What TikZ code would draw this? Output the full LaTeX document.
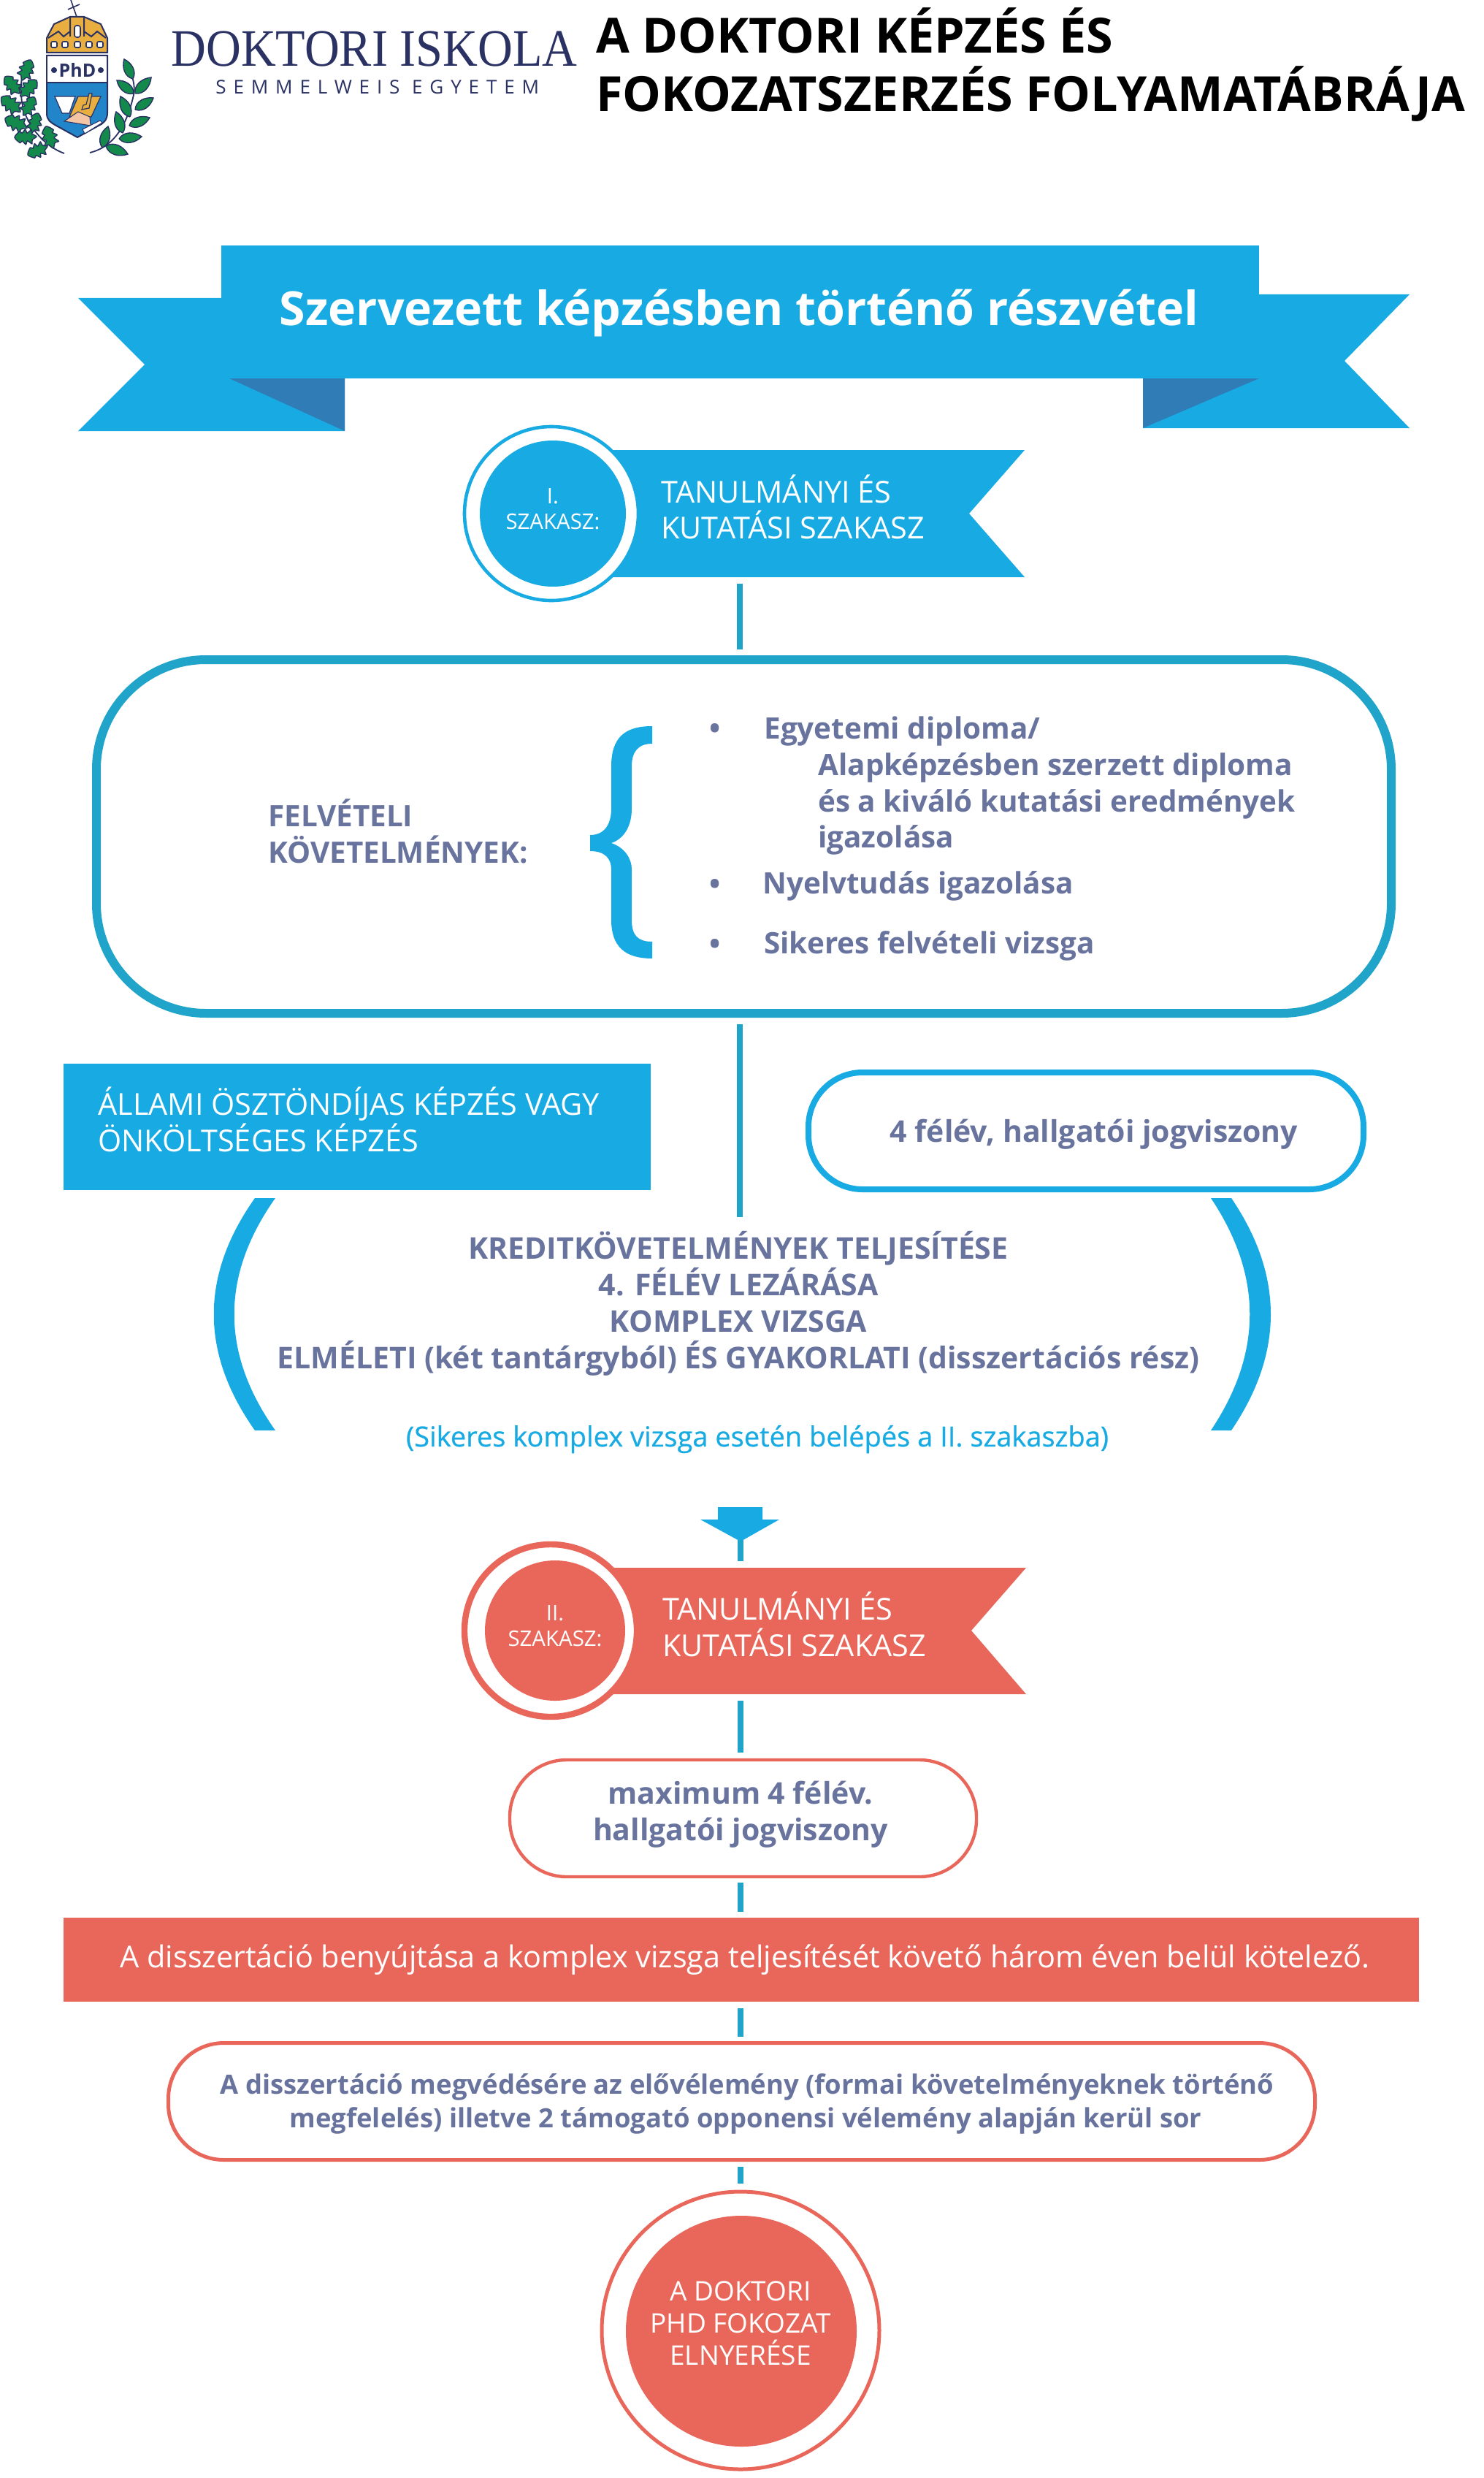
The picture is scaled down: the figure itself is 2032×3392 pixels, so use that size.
\documentclass[tikz,border=0pt]{standalone}
\usepackage{fontspec}
\setmainfont{Open Sans}
\newfontfamily\headserif[FakeStretch=.92]{Liberation Serif}
\newfontfamily\spacedsans[LetterSpace=38]{Open Sans}
\newfontfamily\notesans[FakeBold=.6]{Open Sans}
\usetikzlibrary{positioning}
\definecolor{skyband}{HTML}{18ABE3}
\definecolor{skyline}{HTML}{20A4CA}
\definecolor{foldblue}{HTML}{2F7CB6}
\definecolor{coral}{HTML}{E9675A}
\definecolor{slate}{HTML}{68739E}
\definecolor{navy}{HTML}{2A3163}
\definecolor{dome}{HTML}{E8AE3F}
\definecolor{shieldblue}{HTML}{2285C9}
\definecolor{leafgreen}{HTML}{138A4B}
\definecolor{skin}{HTML}{F4C5A5}
\tikzset{
  laurel leaf/.pic={
    \filldraw[fill=leafgreen, draw=navy, line width=.7pt]
    (0,0) .. controls (.25,.32) and (.7,.25) .. (1,0) .. controls (.7,-.25) and (.25,-.32) .. (0,0);
  },
  oak leaf/.pic={
    \filldraw[fill=leafgreen, draw=navy, line width=.7pt]
    plot[smooth cycle, tension=.5] coordinates {(0,0) (.2,.14) (.22,.32) (.42,.18) (.5,.34) (.66,.18) (.76,.26) (1,0)
    (.76,-.26) (.66,-.18) (.5,-.34) (.42,-.18) (.22,-.32) (.2,-.14)};
  }
}
\begin{document}
\begin{tikzpicture}[x=.5pt, y=-.5pt, inner sep=0pt,
   linkline/.style={draw=skyline, line width=4pt},
   pillbox/.style={draw, fill=white, rounded corners=39pt, minimum height=80pt},
   stagedisc/.style={circle, fill=white, line width=2.3pt},
   slatetext/.style={text=slate, font=\bfseries\fontsize{20.5}{25}\selectfont},
   slatelist/.style={text=slate, font=\bfseries\fontsize{20.2}{25}\selectfont},
   slatesmall/.style={text=slate, font=\bfseries\fontsize{18.2}{23}\selectfont},
   whitetext/.style={text=white, font=\fontsize{20.7}{25}\selectfont},
   smalltext/.style={text=white, align=center, font=\fontsize{14.7}{17.5}\selectfont}
   ]
   \useasboundingbox (0,0) rectangle (2032,3392);

   % logo
   \draw[navy, line width=.8pt] (97,0) -- (105,23) (93,13) -- (109,6);
   \filldraw[fill=dome, draw=navy, line width=1pt] (64,72) -- (64,52) -- (74,33) -- (96,23) -- (115,23) -- (138,33) -- (147,52) -- (147,72) -- cycle;
   \draw[navy, line width=1pt] (66,52) -- (80,43) -- (87,50) -- (96,43) (96,23) -- (96,50) (115,23) -- (115,50) (115,43) -- (125,50) -- (133,43) -- (145,52);
   \filldraw[fill=white, draw=navy, line width=.8pt, rounded corners=1.5pt] (102,35) rectangle (110,51);
   \foreach \winx in {74,89,106,122,137}
     \filldraw[fill=white, draw=navy, line width=.8pt, rounded corners=1pt] (\winx-4,57) rectangle (\winx+4,65);
   \filldraw[fill=shieldblue, draw=navy, line width=1pt] (64,76) -- (147,76) -- (147,155) .. controls (147,165) and (140,170) .. (135,172) -- (106,188) -- (77,172) .. controls (70,168) and (64,165) .. (64,155) -- cycle;
   \filldraw[fill=white, draw=navy, line width=1pt] (64,76) rectangle (147,113);
   \node[text=navy, font=\bfseries\fontsize{12.5}{14}\selectfont] (phdmark) at (106,96) {PhD};
   \fill[navy] (74,96) circle (4) (138,96) circle (4);
   \filldraw[fill=white, draw=navy, line width=.6pt] (75,132) -- (103,132) -- (95,155) -- (85,155) -- cycle;
   \filldraw[fill=dome, draw=navy, line width=.6pt] (107,132) -- (138,132) -- (125,160) -- (95,160) -- cycle;
   \filldraw[fill=dome, draw=navy, line width=.6pt] (122,128) -- (126,128) -- (122,148) -- (112,150) -- (114,144) -- (118,143) -- cycle;
   \filldraw[fill=skin, draw=navy, line width=.5pt] (88,166) -- (107,153) -- (123,160) -- (124,172) -- (112,170) -- cycle;
   \filldraw[fill=white, draw=navy, line width=.5pt] (113,177) -- (137,165) -- (140,168) -- (116,183) -- cycle;
   \draw[navy, line width=.9pt] (88,210) .. controls (60,200) and (35,170) .. (30,140) .. controls (27,115) and (30,100) .. (36,85);
   \draw[navy, line width=.9pt] (123,209) .. controls (160,200) and (175,165) .. (183,130) .. controls (185,120) and (183,110) .. (178,95);
   \foreach \bx/\by/\tx/\ty in {30/110/42/82, 27/128/7/105, 28/132/50/110, 28/153/2/133, 32/158/47/133, 37/175/7/162, 43/182/52/155, 50/187/20/188, 65/200/38/212, 73/203/63/173} {
     \pgfmathsetmacro{\leafang}{atan2(\by-\ty,\tx-\bx)}
     \pgfmathsetmacro{\leaflen}{veclen(\tx-\bx,\ty-\by)}
     \pic[rotate=\leafang, scale=\leaflen] at (\bx,\by) {oak leaf};
   }
   \foreach \bx/\by/\tx/\ty in {182/108/170/81, 183/128/160/110, 185/128/207/106, 178/160/165/132, 185/150/210/134, 168/182/159/153, 177/172/205/161, 140/202/148/173, 163/190/194/187, 145/200/175/211} {
     \pgfmathsetmacro{\leafang}{atan2(\by-\ty,\tx-\bx)}
     \pgfmathsetmacro{\leaflen}{veclen(\tx-\bx,\ty-\by)}
     \pic[rotate=\leafang, scale=\leaflen] at (\bx,\by) {laurel leaf};
   }
   \node[anchor=base west, text=navy, font=\headserif\fontsize{36}{40}\selectfont] (schoolname) at (234,91) {DOKTORI ISKOLA};
   \node[anchor=base west, text=navy, font=\spacedsans\fontsize{13}{15}\selectfont] (schoolsub) at (295,129) {SEMMELWEIS EGYETEM};

   % title
   \node[anchor=base west, font=\bfseries\fontsize{33.2}{40}\selectfont] (titlea) at (816,73) {A DOKTORI KÉPZÉS ÉS};
   \node[anchor=base west, font=\bfseries\fontsize{33.2}{40}\selectfont] (titleb) at (816,153) {FOKOZATSZERZÉS FOLYAMATÁBRÁJA};

   % top ribbon
   \fill[skyband] (107,408) -- (472,408) -- (472,590) -- (107,590) -- (198,499) -- cycle;
   \fill[skyband] (1930,403) -- (1565,403) -- (1565,586) -- (1930,586) -- (1841,494) -- cycle;
   \fill[foldblue] (314,518) -- (472,518) -- (472,590) -- cycle;
   \fill[foldblue] (1724,518) -- (1565,518) -- (1565,586) -- cycle;
   \fill[skyband] (303,336) rectangle (1724,518);
   \node[anchor=base, text=white, font=\bfseries\fontsize{32.2}{40}\selectfont] (maintitle) at (1012,446) {Szervezett képzésben történő részvétel};

   % stage one
   \fill[skyband] (800,616) -- (1403,616) -- (1327,703) -- (1403,790) -- (800,790) -- cycle;
   \coordinate (flagonefoot) at (1013,790);
   \node[stagedisc, draw=skyband, minimum size=119pt] (ringone) at (755,703) {};
   \node[circle, fill=skyband, minimum size=100pt] (discone) at (757,703) {};
   \node[smalltext] (labelone) at (757,697) {I.\\SZAKASZ:};
   \node[anchor=base west, whitetext] (flagonea) at (905,688) {TANULMÁNYI ÉS};
   \node[anchor=base west, whitetext] (flagoneb) at (905,737) {KUTATÁSI SZAKASZ};

   % requirements
   \node[pillbox, draw=skyline, line width=6pt, minimum width=886.5pt, minimum height=242pt, rounded corners=75pt] (reqbox) at (1018.5,1145) {};
   \draw[linkline, shorten <=4.5pt, shorten >=4pt] (flagonefoot) -- (flagonefoot |- reqbox.north);
   \node[anchor=base west, slatelist] (reqa) at (367,1131) {FELVÉTELI};
   \node[anchor=base west, slatelist] (reqb) at (367,1181) {KÖVETELMÉNYEK:};
   \fill[skyband] (893,994) .. controls (855,994) and (837,1010) .. (837,1049) -- (837,1107) .. controls (837,1125) and (830,1143) .. (808,1143) -- (808,1165) .. controls (828,1165) and (837,1175) .. (837,1190) -- (837,1259) .. controls (837,1295) and (855,1312) .. (893,1312) -- (893,1289) .. controls (873,1289) and (865,1280) .. (865,1259) -- (865,1190) .. controls (865,1175) and (855,1160) .. (837,1154) .. controls (855,1148) and (865,1130) .. (865,1107) -- (865,1049) .. controls (865,1030) and (873,1018) .. (893,1018) -- cycle;
   \foreach \mark/\bally/\itemx/\itemy/\itemtext in {ia/1011/1046/1011/{Egyetemi diploma/}, ib/1224/1044/1223/{Nyelvtudás igazolása}, ic/1306/1046/1305/{Sikeres felvételi vizsga}} {
     \node[anchor=base, slatelist] (bullet\mark) at (979,\bally) {•};
     \node[anchor=base west, slatelist] (item\mark) at (\itemx,\itemy) {\itemtext};
   }
   \node[anchor=base west, slatelist] (itema) at (1120,1061) {Alapképzésben szerzett diploma};
   \node[anchor=base west, slatelist] (itemb) at (1120,1111) {és a kiváló kutatási eredmények};
   \node[anchor=base west, slatelist] (itemc) at (1120,1160) {igazolása};

   % first stage, training
   \coordinate (creditfoot) at (1013,1666);
   \draw[linkline, shorten <=4.5pt] (reqbox.south -| creditfoot) -- (creditfoot);
   \fill[skyband] (87,1456) rectangle (891,1629);
   \node[anchor=base west, whitetext] (grantsa) at (134,1526) {ÁLLAMI ÖSZTÖNDÍJAS KÉPZÉS VAGY};
   \node[anchor=base west, whitetext] (grantsb) at (134,1576) {ÖNKÖLTSÉGES KÉPZÉS};
   \node[pillbox, draw=skyband, line width=4pt, minimum width=380pt, rounded corners=37pt] (termbox) at (1487,1548) {};
   \node[anchor=base, slatetext] (termtext) at (1498,1563) {4 félév, hallgatói jogviszony};
   \fill[skyband] (349,1640) -- (377,1640) .. controls (302,1746) and (302,1852) .. (377,1958) -- (349,1958) .. controls (274,1852) and (274,1746) .. (349,1640) -- cycle;
   \fill[skyband] (1686,1640) -- (1658,1640) .. controls (1729,1746) and (1729,1852) .. (1658,1958) -- (1686,1958) .. controls (1758,1852) and (1758,1746) .. (1686,1640) -- cycle;
   \foreach \mark/\liney/\linetext in {a/1723/{KREDITKÖVETELMÉNYEK TELJESÍTÉSE}, b/1773/{4. FÉLÉV LEZÁRÁSA}, c/1823/{KOMPLEX VIZSGA}, d/1873/{ELMÉLETI (két tantárgyból) ÉS GYAKORLATI (disszertációs rész)}}
     \node[anchor=base, slatetext] (credit\mark) at (1011,\liney) {\linetext};
   \node[anchor=base, text=skyband, font=\notesans\fontsize{19}{25}\selectfont] (entrynote) at (1037,1980) {(Sikeres komplex vizsga esetén belépés a II. szakaszba)};

   % arrow
   \fill[skyband] (983,2063) -- (1044,2063) -- (1044,2080) -- (1067,2080) -- (1014,2110) -- (959,2080) -- (983,2080) -- cycle;
   \coordinate (arrowfoot) at (1014,2108);
   \coordinate (flagtwohead) at (1014,2137);
   \draw[linkline] (arrowfoot) -- (flagtwohead);

   % stage two
   \fill[coral] (800,2146) -- (1405,2146) -- (1330,2232) -- (1405,2319) -- (800,2319) -- cycle;
   \coordinate (flagtwofoot) at (1014,2319);
   \node[stagedisc, draw=coral, line width=4.2pt, minimum size=118pt] (ringtwo) at (754,2232) {};
   \node[circle, fill=coral, minimum size=96pt] (disctwo) at (760,2232) {};
   \node[smalltext] (labeltwo) at (760,2226) {II.\\SZAKASZ:};
   \node[anchor=base west, whitetext] (flagtwoa) at (907,2217) {TANULMÁNYI ÉS};
   \node[anchor=base west, whitetext] (flagtwob) at (907,2267) {KUTATÁSI SZAKASZ};

   % defence
   \node[pillbox, draw=coral, line width=2.2pt, minimum width=319.5pt] (maxbox) at (1017.5,2489) {};
   \draw[linkline, shorten <=4.5pt, shorten >=4pt] (flagtwofoot) -- (flagtwofoot |- maxbox.north);
   \node[anchor=base, slatetext] (maxa) at (1014,2469) {maximum 4 félév.};
   \node[anchor=base, slatetext] (maxb) at (1014,2519) {hallgatói jogviszony};
   \fill[coral] (87,2625) rectangle (1943,2740);
   \coordinate (barhead) at (1014,2625);
   \coordinate (barfoot) at (1014,2740);
   \draw[linkline, shorten <=3pt, shorten >=4pt] (maxbox.south -| barhead) -- (barhead);
   \node[anchor=base, whitetext] (bartext) at (1020,2693) {A disszertáció benyújtása a komplex vizsga teljesítését követő három éven belül kötelező.};
   \node[pillbox, draw=coral, line width=2.5pt, minimum width=785pt, rounded corners=38pt] (defbox) at (1015.5,2876.5) {};
   \draw[linkline, shorten <=4.5pt, shorten >=3pt] (barfoot) -- (barfoot |- defbox.north);
   \node[anchor=base, slatesmall] (defa) at (1023,2866) {A disszertáció megvédésére az elővélemény (formai követelményeknek történő};
   \node[anchor=base, slatesmall] (defb) at (1021,2912) {megfelelés) illetve 2 támogató opponensi vélemény alapján kerül sor};

   % degree
   \node[stagedisc, draw=coral, line width=2.5pt, minimum size=190pt] (ringthree) at (1014,3190) {};
   \draw[linkline, shorten <=3.5pt, shorten >=4.5pt] (defbox.south -| ringthree) -- (ringthree.north);
   \node[circle, fill=coral, minimum size=158pt] (discthree) at (1015,3191) {};
   \node[text=white, align=center, font=\fontsize{18.5}{22}\selectfont] (degreetext) at (1014,3180) {A DOKTORI\\PHD FOKOZAT\\ELNYERÉSE};
\end{tikzpicture}
\end{document}
